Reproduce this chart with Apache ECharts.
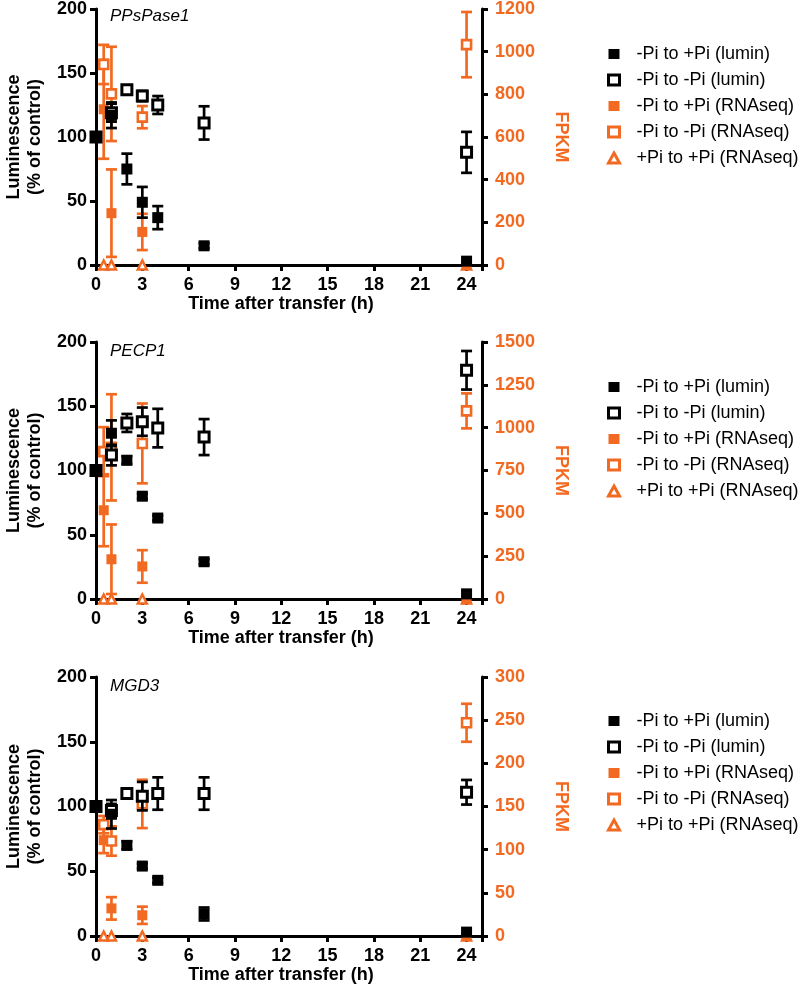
<!DOCTYPE html>
<html>
<head>
<meta charset="utf-8">
<script src="https://cdn.jsdelivr.net/npm/echarts@6/dist/echarts.min.js"></script>
<style>
html,body{margin:0;padding:0;background:#fff;}
#chart{width:807px;height:994px;}
</style>
</head>
<body>
<div id="chart"></div>
<script>
// ---- data ----
const genes = ['PPsPase1', 'PECP1', 'MGD3'];
const timeLumin = [0, 1, 2, 3, 4, 7, 24];
const timeRNA = [0.5, 1, 3, 24];
const xTicks = [0, 3, 6, 9, 12, 15, 18, 21, 24];
const leftMax = 200, leftStep = 50;
const rightMax = [1200, 1500, 300];
const rightStep = [200, 250, 50];
const seriesNames = ['-Pi to +Pi (lumin)', '-Pi to -Pi (lumin)', '-Pi to +Pi (RNAseq)', '-Pi to -Pi (RNAseq)', '+Pi to +Pi (RNAseq)'];

// PPsPase1
const ppsLuminPlus = [100, 117, 75, 49, 37, 15, 3];
const ppsLuminPlusErr = [0, 10, 12, 12, 9, 2, 0];
const ppsLuminMinus = [100, 119, 137, 132, 125, 111, 88];
const ppsLuminMinusErr = [0, 7, 2, 4, 7, 13, 16];
const ppsRnaPlus = [730, 243, 155, 0];
const ppsRnaPlusErr = [232, 205, 85, 0];
const ppsRnaMinus = [940, 802, 693, 1033];
const ppsRnaMinusErr = [92, 221, 52, 153];
const ppsRnaPlusPlus = [0, 0, 0, 0];

// PECP1
const pecLuminPlus = [100, 129, 108, 80, 63, 29, 4];
const pecLuminPlusErr = [0, 10, 3, 2, 2, 2, 0];
const pecLuminMinus = [100, 112, 137, 138, 133, 126, 178];
const pecLuminMinusErr = [0, 8, 7, 11, 15, 14, 15];
const pecRnaPlus = [518, 232, 190, 0];
const pecRnaPlusErr = [210, 203, 95, 0];
const pecRnaMinus = [860, 885, 908, 1098];
const pecRnaMinusErr = [143, 310, 233, 102];
const pecRnaPlusPlus = [0, 0, 0, 0];

// MGD3
const mgdLuminPlus = [100, 94, 70, 54, 43, 17, 3];
const mgdLuminPlusErr = [0, 11, 3, 2, 2, 5, 0];
const mgdLuminMinus = [100, 97, 110, 108, 110, 110, 111];
const mgdLuminMinusErr = [0, 5, 3, 11, 12.5, 12.5, 9.5];
const mgdRnaPlus = [111, 32, 24, 0];
const mgdRnaPlusErr = [15, 13, 10, 0];
const mgdRnaMinus = [129, 110, 153, 247];
const mgdRnaMinusErr = [10, 17, 28, 22];
const mgdRnaPlusPlus = [0, 0, 0, 0];

const panels = [
  {lp: ppsLuminPlus, lpe: ppsLuminPlusErr, lm: ppsLuminMinus, lme: ppsLuminMinusErr,
   rp: ppsRnaPlus, rpe: ppsRnaPlusErr, rm: ppsRnaMinus, rme: ppsRnaMinusErr, rpp: ppsRnaPlusPlus},
  {lp: pecLuminPlus, lpe: pecLuminPlusErr, lm: pecLuminMinus, lme: pecLuminMinusErr,
   rp: pecRnaPlus, rpe: pecRnaPlusErr, rm: pecRnaMinus, rme: pecRnaMinusErr, rpp: pecRnaPlusPlus},
  {lp: mgdLuminPlus, lpe: mgdLuminPlusErr, lm: mgdLuminMinus, lme: mgdLuminMinusErr,
   rp: mgdRnaPlus, rpe: mgdRnaPlusErr, rm: mgdRnaMinus, rme: mgdRnaMinusErr, rpp: mgdRnaPlusPlus}
];

// ---- style ----
const ORANGE = '#F26A22';
const BLACK = '#000000';
const FONT = '"Liberation Sans", Arial, Helvetica, sans-serif';
const gridTops = [7, 342, 677];
const gridHeights = [258, 257, 259];
const legendTops = [45, 378, 712];

function pairs(xs, ys) { return xs.map((x, i) => [x, ys[i]]); }
function triples(xs, ys, es) { return xs.map((x, i) => [x, ys[i], es[i]]); }

function errRender(color) {
  return function (params, api) {
    const x = api.value(0), y = api.value(1), e = api.value(2);
    if (!e) return null;
    const top = api.coord([x, y + e]);
    const bot = api.coord([x, Math.max(0, y - e)]);
    const w = 5.5;
    const style = {stroke: color, lineWidth: 2.7, fill: null};
    return {
      type: 'group',
      children: [
        {type: 'line', shape: {x1: top[0], y1: top[1], x2: bot[0], y2: bot[1]}, style: style},
        {type: 'line', shape: {x1: top[0] - w, y1: top[1], x2: top[0] + w, y2: top[1]}, style: style},
        {type: 'line', shape: {x1: bot[0] - w, y1: bot[1], x2: bot[0] + w, y2: bot[1]}, style: style}
      ]
    };
  };
}

const grid = [], xAxis = [], yAxis = [], series = [], legend = [], title = [];

const axisLineStyle = {show: true, lineStyle: {color: BLACK, width: 3}};
const axisTickStyle = {show: true, length: 6, lineStyle: {color: BLACK, width: 3}};

panels.forEach((p, i) => {
  grid.push({left: 96, right: 325, top: gridTops[i], height: gridHeights[i], containLabel: false});
  xAxis.push({
    type: 'value', gridIndex: i, min: 0, max: 25, interval: 3,
    axisLine: axisLineStyle, axisTick: axisTickStyle, splitLine: {show: false},
    axisLabel: {color: BLACK, fontFamily: FONT, fontWeight: 'bold', fontSize: 18, margin: 11,
      formatter: v => (xTicks.indexOf(v) >= 0 ? String(v) : '')},
    name: 'Time after transfer (h)', nameLocation: 'middle', nameGap: 27,
    nameTextStyle: {color: BLACK, fontFamily: FONT, fontWeight: 'bold', fontSize: 18, padding: [0, 16, 0, 0]}
  });
  yAxis.push({
    type: 'value', gridIndex: i, position: 'left', min: 0, max: leftMax, interval: leftStep,
    axisLine: axisLineStyle, axisTick: axisTickStyle, splitLine: {show: false},
    axisLabel: {color: BLACK, fontFamily: FONT, fontWeight: 'bold', fontSize: 18, margin: 9},
    name: 'Luminescence\n(% of control)', nameLocation: 'middle', nameGap: 50,
    nameTextStyle: {color: BLACK, fontFamily: FONT, fontWeight: 'bold', fontSize: 18, lineHeight: 21}
  });
  yAxis.push({
    type: 'value', gridIndex: i, position: 'right', min: 0, max: rightMax[i], interval: rightStep[i],
    axisLine: axisLineStyle, axisTick: axisTickStyle, splitLine: {show: false},
    axisLabel: {color: ORANGE, fontFamily: FONT, fontWeight: 'bold', fontSize: 18, margin: 13,
      formatter: v => String(v)},
    name: 'FPKM', nameLocation: 'middle', nameGap: 70, nameRotate: -90,
    nameTextStyle: {color: ORANGE, fontFamily: FONT, fontWeight: 'bold', fontSize: 18}
  });
  title.push({
    text: genes[i], left: 110, top: gridTops[i] + 1, padding: 0,
    textStyle: {fontFamily: FONT, fontStyle: 'italic', fontWeight: 'normal', fontSize: 17, color: BLACK}
  });
  legend.push({
    orient: 'vertical', left: 607, top: legendTops[i], padding: 0,
    itemWidth: 11, itemHeight: 10, itemGap: 8,
    textStyle: {fontFamily: FONT, fontSize: 18, color: BLACK, padding: [0, 0, 0, 12]},
    selectedMode: false,
    data: [
      {name: seriesNames[0], icon: 'rect', itemStyle: {color: BLACK, borderWidth: 0}},
      {name: seriesNames[1], icon: 'rect', itemStyle: {color: '#fff', borderColor: BLACK, borderWidth: 3}},
      {name: seriesNames[2], icon: 'rect', itemStyle: {color: ORANGE, borderWidth: 0}},
      {name: seriesNames[3], icon: 'rect', itemStyle: {color: '#fff', borderColor: ORANGE, borderWidth: 3}},
      {name: seriesNames[4], icon: 'triangle', itemStyle: {color: '#fff', borderColor: ORANGE, borderWidth: 3}}
    ]
  });

  const xi = i, yl = 2 * i, yr = 2 * i + 1;
  // orange error bars
  series.push({type: 'custom', xAxisIndex: xi, yAxisIndex: yr, renderItem: errRender(ORANGE),
    data: triples(timeRNA, p.rm, p.rme), encode: {x: 0, y: 1}, z: 2, silent: true});
  series.push({type: 'custom', xAxisIndex: xi, yAxisIndex: yr, renderItem: errRender(ORANGE),
    data: triples(timeRNA, p.rp, p.rpe), encode: {x: 0, y: 1}, z: 2, silent: true});
  // orange markers
  series.push({name: seriesNames[4], type: 'scatter', xAxisIndex: xi, yAxisIndex: yr,
    symbol: 'triangle', symbolSize: 9, data: pairs(timeRNA, p.rpp),
    itemStyle: {color: '#fff', borderColor: ORANGE, borderWidth: 2.5, opacity: 1}, z: 3});
  series.push({name: seriesNames[2], type: 'scatter', xAxisIndex: xi, yAxisIndex: yr,
    symbol: 'rect', symbolSize: 10, data: pairs(timeRNA, p.rp),
    itemStyle: {color: ORANGE, opacity: 1}, z: 3});
  series.push({name: seriesNames[3], type: 'scatter', xAxisIndex: xi, yAxisIndex: yr,
    symbol: 'rect', symbolSize: 9, data: pairs(timeRNA, p.rm),
    itemStyle: {color: '#fff', borderColor: ORANGE, borderWidth: 2.6, opacity: 1}, z: 3});
  // black error bars
  series.push({type: 'custom', xAxisIndex: xi, yAxisIndex: yl, renderItem: errRender(BLACK),
    data: triples(timeLumin, p.lm, p.lme), encode: {x: 0, y: 1}, z: 4, silent: true});
  series.push({type: 'custom', xAxisIndex: xi, yAxisIndex: yl, renderItem: errRender(BLACK),
    data: triples(timeLumin, p.lp, p.lpe), encode: {x: 0, y: 1}, z: 4, silent: true});
  // black markers
  series.push({name: seriesNames[1], type: 'scatter', xAxisIndex: xi, yAxisIndex: yl,
    symbol: 'rect', symbolSize: 10, data: pairs(timeLumin, p.lm),
    itemStyle: {color: '#fff', borderColor: BLACK, borderWidth: 3, opacity: 1}, z: 5});
  series.push({name: seriesNames[0], type: 'scatter', xAxisIndex: xi, yAxisIndex: yl,
    symbol: 'rect', symbolSize: 11, data: pairs(timeLumin, p.lp),
    itemStyle: {color: BLACK, opacity: 1}, z: 5});
});

const chart = echarts.init(document.getElementById('chart'), null, {renderer: 'canvas'});
chart.setOption({
  backgroundColor: '#fff',
  animation: false,
  title: title,
  legend: legend,
  grid: grid,
  xAxis: xAxis,
  yAxis: yAxis,
  series: series
});
</script>
</body>
</html>
